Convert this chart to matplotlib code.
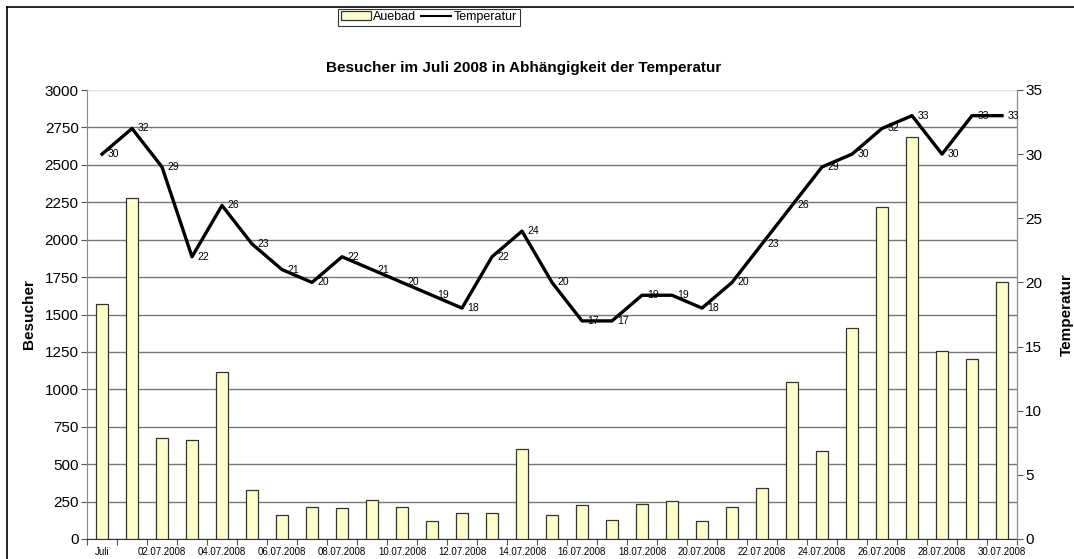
import numpy as np
import matplotlib.pyplot as plt
from matplotlib.patches import Patch
from matplotlib.lines import Line2D

plt.rcParams['font.family'] = ['Liberation Sans', 'DejaVu Sans']

days = list(range(31))
date_labels = ["Juli", "02.07.2008", "04.07.2008", "06.07.2008", "08.07.2008",
               "10.07.2008", "12.07.2008", "14.07.2008", "16.07.2008", "18.07.2008",
               "20.07.2008", "22.07.2008", "24.07.2008", "26.07.2008", "28.07.2008",
               "30.07.2008"]
besucher = [1570, 2278, 677, 663, 1115, 329, 158, 212, 205, 260, 216, 118, 171, 176,
            603, 158, 225, 127, 234, 252, 122, 212, 343, 1049, 586, 1410, 2216, 2687,
            1256, 1202, 1719]
temperatur = [30, 32, 29, 22, 26, 23, 21, 20, 22, 21, 20, 19, 18, 22, 24, 20, 17, 17,
              19, 19, 18, 20, 23, 26, 29, 30, 32, 33, 30, 33, 33]

fig = plt.figure(figsize=(10.74, 5.59), dpi=100)
ax = fig.add_axes([87 / 1074, 20 / 559, 930 / 1074, 449 / 559])

# frame of the chart area
fig.add_artist(Line2D([7 / 1074, 1.0], [1 - 7 / 559, 1 - 7 / 559], color="black",
                      lw=1.2, transform=fig.transFigure))
fig.add_artist(Line2D([7 / 1074, 7 / 1074], [0, 1 - 7 / 559], color="black",
                      lw=1.2, transform=fig.transFigure))

ax.bar(days, besucher, width=0.37, color="#ffffcc", edgecolor="#333333",
       linewidth=0.9, zorder=3)
ax.set_xlim(-0.5, 30.5)
ax.set_ylim(0, 3000)
ax.set_yticks(np.arange(0, 3001, 250))
ax.yaxis.grid(True, color="#777777", linewidth=1.0, zorder=0)
ax.get_ygridlines()[-1].set_color("#e0e0e0")
ax.set_axisbelow(True)

ax.set_xticks(np.arange(-0.5, 31, 1))
ax.set_xticklabels([])
ax.set_xticks(days[::2], minor=True)
ax.set_xticklabels(date_labels, minor=True, fontsize=7)
ax.tick_params(axis="x", which="major", length=4, color="#555555")
ax.tick_params(axis="x", which="minor", length=0, pad=6)
ax.tick_params(axis="y", labelsize=11, length=4, color="#555555", pad=2)

ax.spines["top"].set_visible(False)
ax.spines["left"].set_color("#888888")
ax.spines["right"].set_color("#888888")
ax.spines["bottom"].set_color("#333333")

ax.set_ylabel("Besucher", fontsize=11, fontweight="bold")
ax.yaxis.set_label_coords(-0.0548, 0.5)

ax2 = ax.twinx()
ax2.plot(days, temperatur, color="black", linewidth=2.4, zorder=4)
ax2.set_ylim(0, 35)
ax2.set_yticks(np.arange(0, 36, 5))
ax2.tick_params(axis="y", labelsize=11, length=4, color="#555555", pad=2)
ax2.spines["top"].set_visible(False)
ax2.spines["right"].set_color("#888888")
ax2.spines["left"].set_visible(False)
ax2.spines["bottom"].set_visible(False)
ax2.set_ylabel("Temperatur", fontsize=11, fontweight="bold")
ax2.yaxis.set_label_coords(1.0457, 0.5)

for d, t in zip(days, temperatur):
    ax2.annotate(str(t), (d, t), xytext=(4, 0), textcoords="offset points",
                 fontsize=7.5, ha="left", va="center", zorder=5)

fig.text(0.488, 1 - 68 / 559, "Besucher im Juli 2008 in Abhängigkeit der Temperatur",
         ha="center", va="center", fontsize=11, fontweight="bold")

handles = [Patch(facecolor="#ffffcc", edgecolor="#333333", linewidth=0.9),
           Line2D([], [], color="black", linewidth=1.5)]
leg = fig.legend(handles, ["Auebad", "Temperatur"], loc="center",
                 bbox_to_anchor=(429 / 1074, 1 - 17 / 559), ncol=2, fontsize=9,
                 frameon=True, fancybox=False, edgecolor="black", borderpad=0.2,
                 handlelength=2.4, handleheight=0.7, handletextpad=0.2,
                 columnspacing=0.4, borderaxespad=0)
leg.get_frame().set_linewidth(0.8)

fig.savefig("out.png", dpi=100)
